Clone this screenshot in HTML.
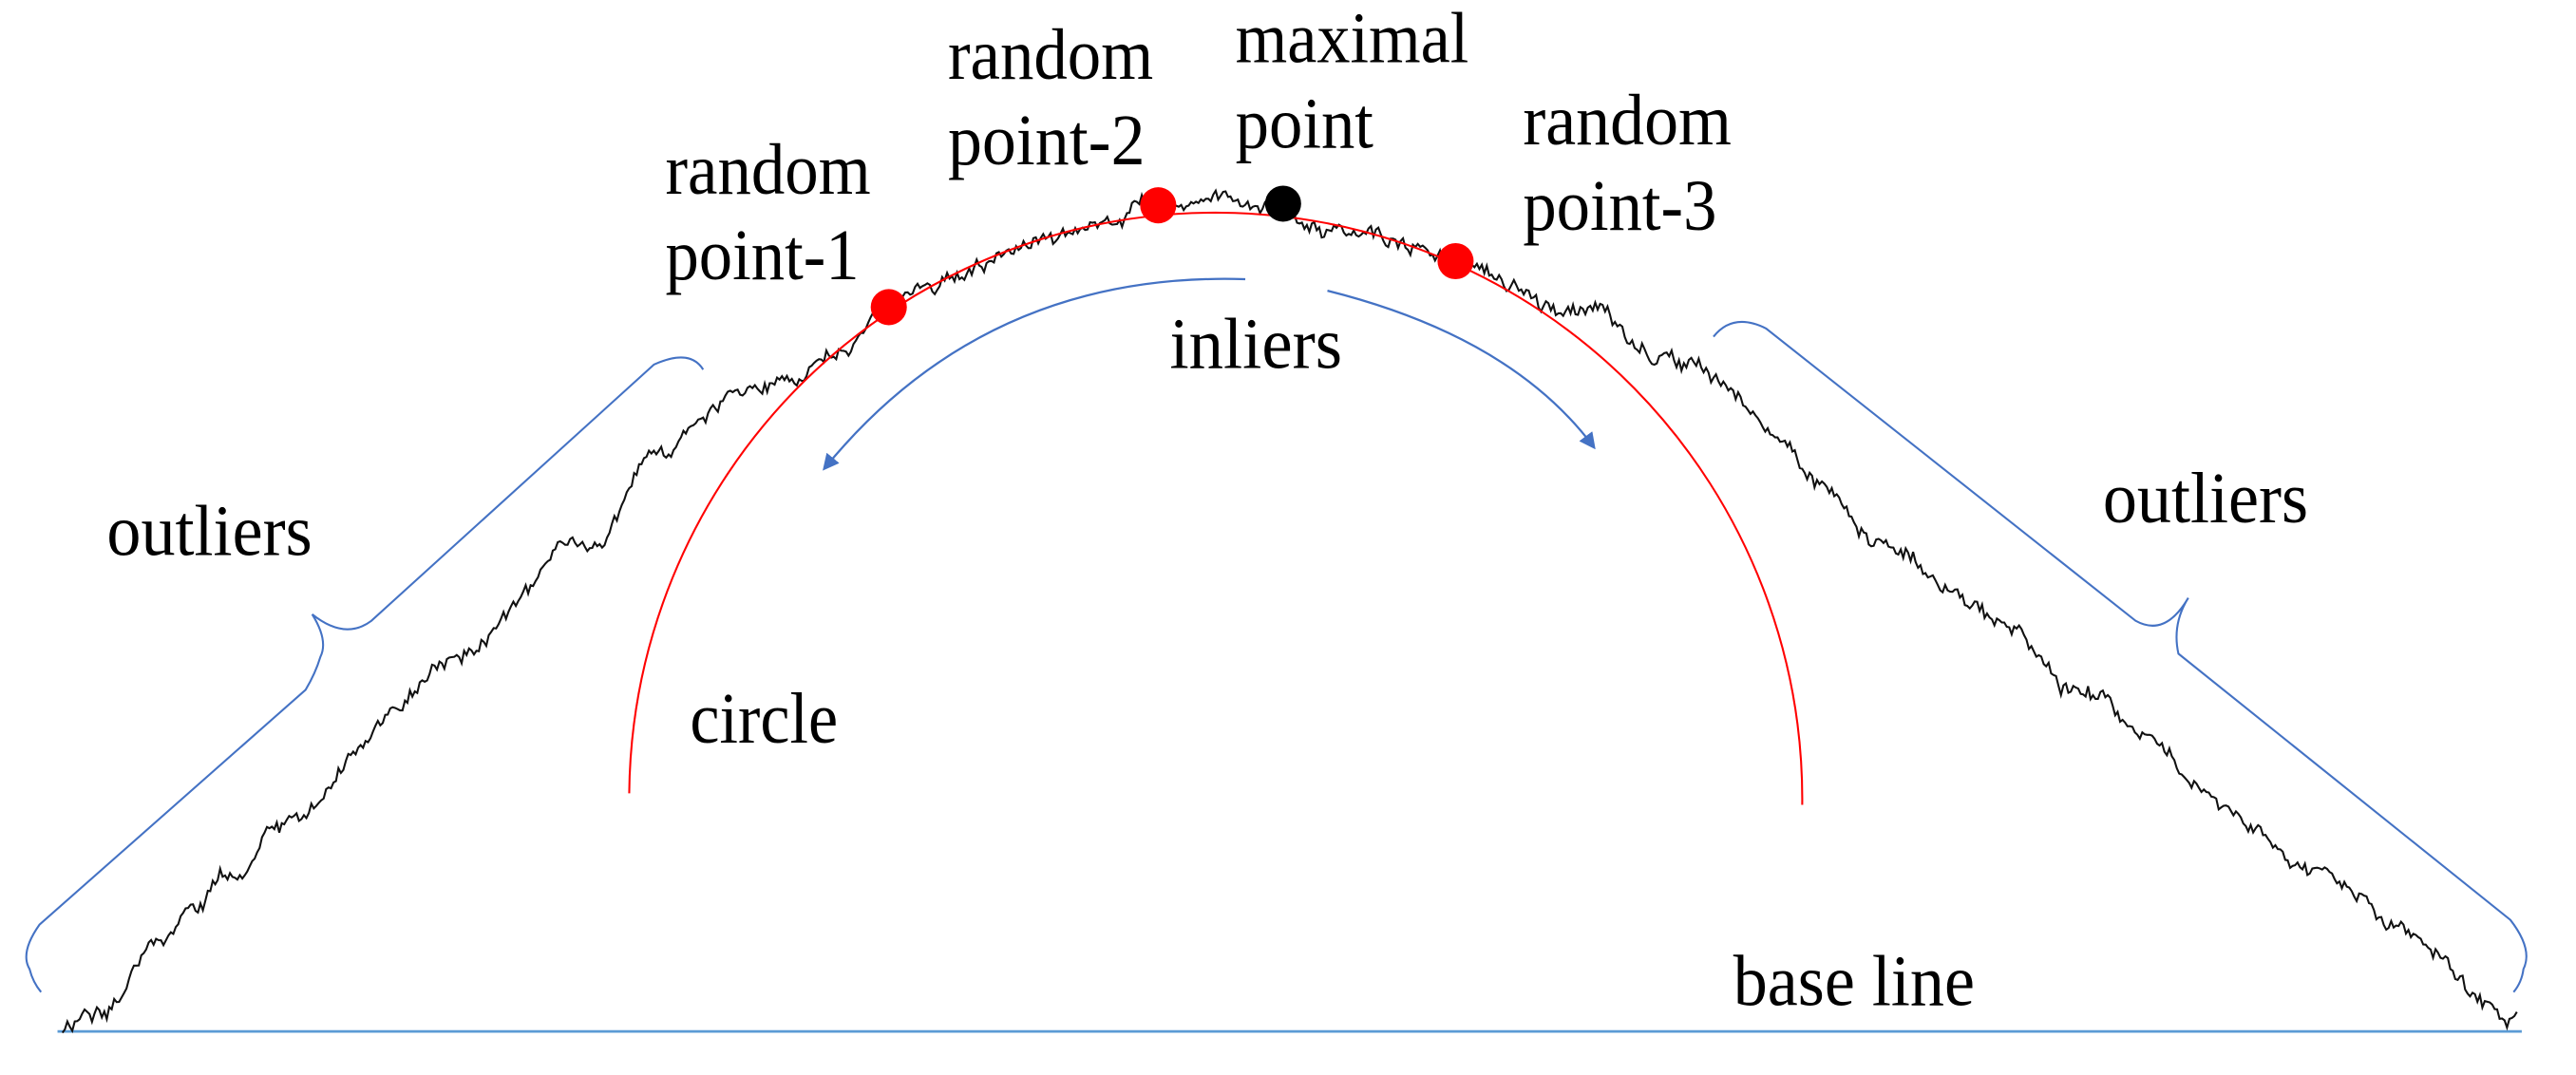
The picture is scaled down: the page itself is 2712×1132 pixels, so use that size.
<!DOCTYPE html>
<html><head><meta charset="utf-8"><style>
html,body{margin:0;padding:0;background:#fff;}
svg{display:block;}
svg text{font-family:'Liberation Serif','Times New Roman',Times,'DejaVu Serif',serif !important;font-size:44px;fill:#000;}
</style></head><body>
<svg id="s" width="2712" height="1132" viewBox="0 0 1568 654.5" preserveAspectRatio="none" xmlns="http://www.w3.org/2000/svg">
<defs>
<marker id="ah" markerWidth="10" markerHeight="10" refX="8" refY="5" orient="auto" markerUnits="userSpaceOnUse">
<path d="M0,0 L10,5 L0,10 Z" fill="#4472c4"/>
</marker>
</defs>
<line x1="35" y1="628" x2="1535" y2="628" stroke="#5b9bd5" stroke-width="1.6"/>
<path id="noisy" d="" fill="none" stroke="#111" stroke-width="1.2"/>
<path d="M383,483 A357,357 0 0 1 1097,490" fill="none" stroke="#ff0000" stroke-width="1.2"/>
<circle cx="541" cy="187" r="11" fill="#ff0000"/>
<circle cx="705" cy="125" r="11" fill="#ff0000"/>
<circle cx="781" cy="124" r="11" fill="#000"/>
<circle cx="886" cy="159" r="11" fill="#ff0000"/>
<path d="M758,170 Q600,165 502,285" fill="none" stroke="#4472c4" stroke-width="1.3" marker-end="url(#ah)"/>
<path d="M808,177 Q920,205 970,272" fill="none" stroke="#4472c4" stroke-width="1.3" marker-end="url(#ah)"/>
<path d="M428,225 Q420,212 398,222 L226,378 Q210,390 190,374 M190,374 Q200,390 195,400 Q192,410 186,420 L24,563 Q12,580 18,590 Q20,598 25,604" fill="none" stroke="#4472c4" stroke-width="1.2"/>
<path d="M1043,205 Q1055,190 1075,200 L1300,378 Q1318,388 1332,364 M1332,364 Q1322,380 1326,398 L1528,560 Q1542,578 1536,590 Q1535,598 1530,604" fill="none" stroke="#4472c4" stroke-width="1.2"/>
<text x="405" y="118" textLength="125" lengthAdjust="spacingAndGlyphs">random</text>
<text x="405" y="170" textLength="118" lengthAdjust="spacingAndGlyphs">point-1</text>
<text x="577" y="48" textLength="125" lengthAdjust="spacingAndGlyphs">random</text>
<text x="577" y="100" textLength="120" lengthAdjust="spacingAndGlyphs">point-2</text>
<text x="752" y="38" textLength="142" lengthAdjust="spacingAndGlyphs">maximal</text>
<text x="752" y="90" textLength="84" lengthAdjust="spacingAndGlyphs">point</text>
<text x="927" y="88" textLength="127" lengthAdjust="spacingAndGlyphs">random</text>
<text x="927" y="140" textLength="118" lengthAdjust="spacingAndGlyphs">point-3</text>
<text x="712" y="224" textLength="105" lengthAdjust="spacingAndGlyphs">inliers</text>
<text x="65" y="338" textLength="125" lengthAdjust="spacingAndGlyphs">outliers</text>
<text x="1280" y="318" textLength="125" lengthAdjust="spacingAndGlyphs">outliers</text>
<text x="420" y="452" textLength="90" lengthAdjust="spacingAndGlyphs">circle</text>
<text x="1055" y="612" textLength="147" lengthAdjust="spacingAndGlyphs">base line</text>
</svg>
<script>
(function(){
var pts=[[38,630],[130,540],[300,380],[450,240],[540,190],[620,150],[700,130],[780,125],[870,150],[960,185],[1040,235],[1200,370],[1400,520],[1530,625]];
function base(x){for(var i=0;i<pts.length-1;i++){var a=pts[i],b=pts[i+1];if(x<=b[0]){var t=(x-a[0])/(b[0]-a[0]);return a[1]+t*(b[1]-a[1]);}}return 625;}
var seed=12345;function r(){seed=(seed*16807)%2147483647;return seed/2147483647;}
var d="",w=0;
for(var x=38;x<=1532;x+=1.5){w=w*0.93+(r()-0.5)*7;var y=base(x)+w+(r()-0.5)*5;d+=(d?"L":"M")+x.toFixed(1)+","+y.toFixed(1);}
document.getElementById("noisy").setAttribute("d",d);
})();
</script>
</body></html>
